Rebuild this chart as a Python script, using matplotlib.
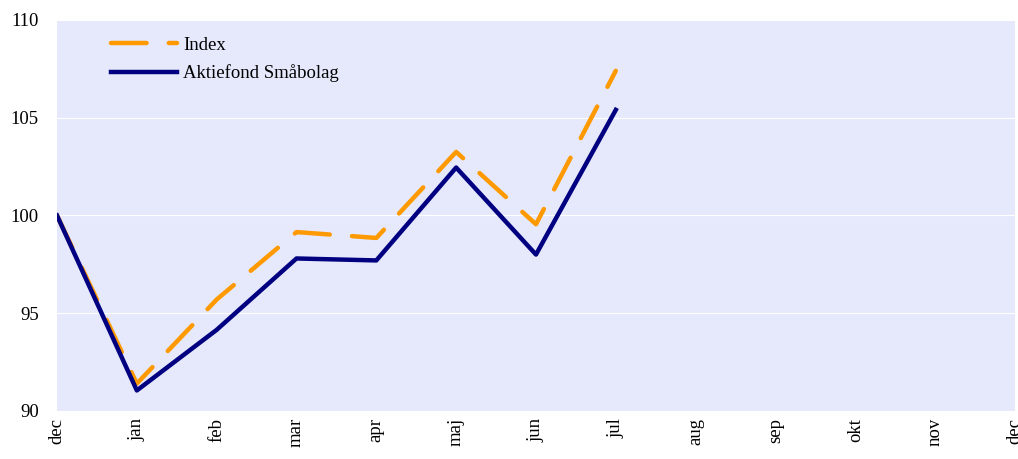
import matplotlib.pyplot as plt

months = ['dec', 'jan', 'feb', 'mar', 'apr', 'maj', 'jun', 'jul',
          'aug', 'sep', 'okt', 'nov', 'dec']
index_vals = [100.0, 91.4, 95.7, 99.15, 98.85, 103.25, 99.55, 107.4]
fond_vals = [100.0, 91.05, 94.15, 97.8, 97.7, 102.45, 98.0, 105.4]

plt.rcParams['font.family'] = ['Liberation Serif', 'DejaVu Serif']

fig = plt.figure(figsize=(10.18, 4.59), dpi=100)
ax = fig.add_axes([0.056, 0.1046, 0.941, 0.852])
ax.set_facecolor('#e6e8fc')

ax.plot(range(len(index_vals)), index_vals, color='#ff9900', lw=3.2, dashes=(8, 5),
        dash_capstyle='round', label='Index', zorder=3)
ax.plot(range(len(fond_vals)), fond_vals, color='#000080', lw=3.2,
        label='Aktiefond Småbolag', zorder=4)

ax.set_xlim(0, len(months) - 1)
ax.set_ylim(90, 110)
ax.set_xticks(range(len(months)))
ax.set_xticklabels(months, rotation=90, fontsize=13.5)
ax.set_yticks([90, 95, 100, 105, 110])
ax.tick_params(axis='y', labelsize=13.5, length=0, pad=13)
ax.tick_params(axis='x', length=0, pad=5)
ax.grid(axis='y', color='white', lw=0.8)
ax.set_axisbelow(True)
for s in ax.spines.values():
    s.set_visible(False)

# legend sits a bit inside the top-left corner, no frame
ax.legend(loc='upper left', frameon=False, fontsize=13.5, handlelength=3.5,
          bbox_to_anchor=(0.039, 1.0), labelspacing=0.55, handletextpad=0.35)

fig.savefig('out.png')
